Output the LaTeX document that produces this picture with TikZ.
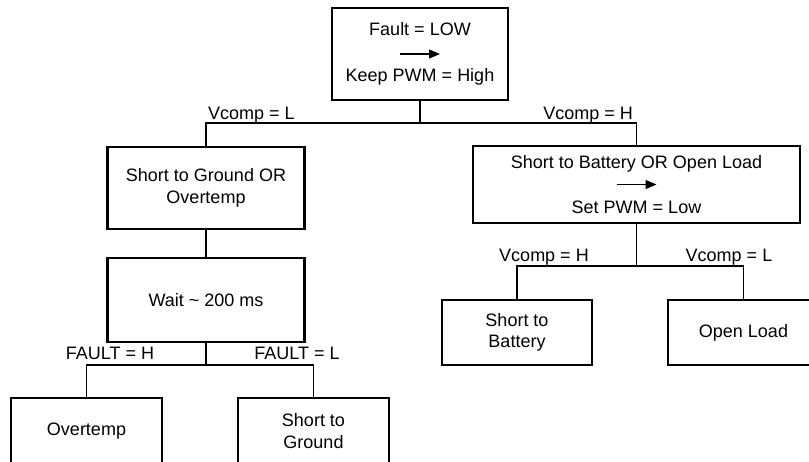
\documentclass[tikz,border=0pt]{standalone}
\usepackage{fontspec}
\setmainfont{Liberation Sans}
\usetikzlibrary{arrows.meta, positioning}

\begin{document}
\begin{tikzpicture}[x=1pt, y=-1pt,
                        every node/.style={font=\fontsize{18}{21.5}\selectfont},
                        block/.style={draw, line width=2.2pt, align=center, inner sep=2pt},
                        cond/.style={inner sep=0pt},
                        wire/.style={line width=1.1pt},
                        setarrow/.style={line width=1.2pt, -{Triangle[length=11pt, width=9pt]}}]
                        \useasboundingbox (0,0) rectangle (809,461);
                        \clip (0,0) rectangle (809,461);

                        \node[block, minimum width=176pt, minimum height=92pt] (fault) at (420,54) {Fault = LOW\\[25pt]Keep PWM = High};
                        \node[block, minimum width=197pt, minimum height=82pt] (sgot) at (206,188) {Short to Ground OR\\Overtemp};
                        \node[block, minimum width=197pt, minimum height=84pt] (wait) at (206,300) {Wait \textasciitilde{} 200 ms};
                        \node[block, minimum width=151pt, minimum height=66pt] (otemp) at (86.5,431) {Overtemp};
                        \node[block, minimum width=151pt, minimum height=66pt] (sgnd) at (313.5,431) {Short to\\Ground};
                        \node[block, minimum width=327pt, minimum height=77pt] (sbol) at (636.5,184.5) {Short to Battery OR Open Load\\[23.5pt]Set PWM = Low};
                        \node[block, minimum width=150pt, minimum height=65pt] (sbat) at (517,332.5) {Short to\\Battery};
                        \node[block, minimum width=151pt, minimum height=65pt] (oload) at (743.5,332.5) {Open Load};

                        \coordinate (j1) at (420,123);
                        \coordinate (j2) at (206,365);
                        \coordinate (j3) at (636.5,266);

                        \node[cond, anchor=base west] (vl) at (208,119.5) {Vcomp = L};
                        \node[cond, anchor=base east] (vh) at (633,119.5) {Vcomp = H};
                        \node[cond, anchor=base] (vbat) at (544,261.5) {Vcomp = H};
                        \node[cond, anchor=base] (vopen) at (729,261.5) {Vcomp = L};
                        \node[cond, anchor=base] (fh) at (110,359.5) {FAULT = H};
                        \node[cond, anchor=base] (fl) at (297,359.5) {FAULT = L};

                        \draw[setarrow] ([xshift=-20pt]fault.center) -- ([xshift=20pt]fault.center);
                        \draw[setarrow] ([xshift=-20pt]sbol.center) -- ([xshift=20pt]sbol.center);

                        \draw[wire]
                        (fault) -- (j1)
                        (sgot.north) |- (j1) -| (sbol.north)
                        (sgot) -- (wait)
                        (wait) -- (j2)
                        (otemp.north) |- (j2) -| (sgnd.north)
                        (sbol) -- (j3)
                        (sbat.north) |- (j3) -| (oload.north);
                    \end{tikzpicture}
\end{document}
